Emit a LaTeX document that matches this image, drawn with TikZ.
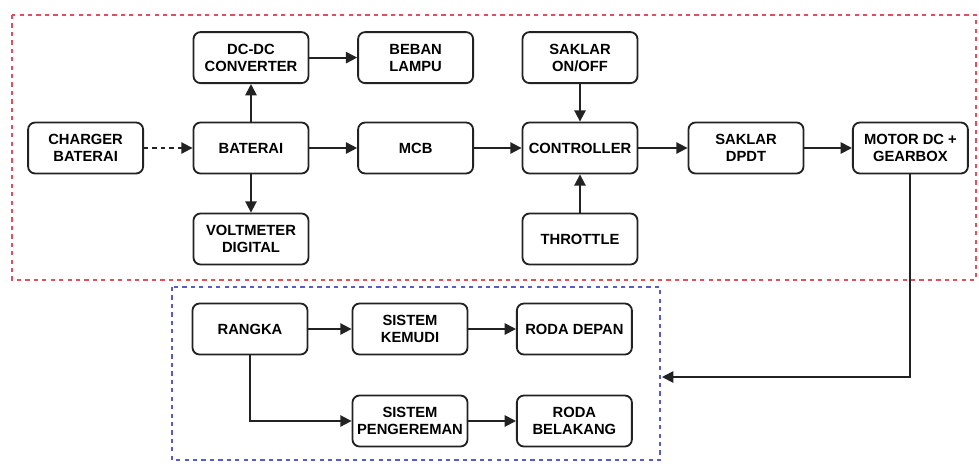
\documentclass[tikz,border=0pt]{standalone}
\usepackage{fontspec}
\setmainfont{Liberation Sans}
\usepackage{tikz}
\usetikzlibrary{arrows.meta, positioning}
\definecolor{BoxLine}{HTML}{222222}
\definecolor{FrameRed}{HTML}{E0505A}
\definecolor{FrameBlue}{HTML}{5A5AD0}

\begin{document}
\begin{tikzpicture}[
        blok/.style={draw=BoxLine, line width=1.3pt, rounded corners=5pt, fill=white,
                    minimum width=2.875cm, minimum height=1.275cm, inner xsep=2pt,
                    align=center, font=\fontsize{10.5}{12}\selectfont\bfseries},
        panah/.style={-{Triangle[length=8pt,width=8pt]}, line width=1.3pt, BoxLine},
        grup/.style={line width=1.2pt, dash pattern=on 3pt off 3pt}]
        \useasboundingbox (0,0) rectangle (24.475,-11.65);

        % Group frames
        \draw[grup, FrameRed]  (0.3,-0.375) rectangle (24.4,-7.0);
        \draw[grup, FrameBlue] (4.3,-7.175) rectangle (16.5,-11.5);
        \coordinate (mekanik) at (16.55,-9.425);

        % Electrical part
        \node[blok] (charger) at (2.14,-3.7)   {CHARGER\\BATERAI};
        \node[blok] (baterai) at (6.275,-3.7)  {BATERAI};
        \node[blok] (dcdc)    at (6.275,-1.44) {DC-DC\\CONVERTER};
        \node[blok] (volt)    at (6.275,-5.975){VOLTMETER\\DIGITAL};
        \node[blok] (lampu)   at (10.39,-1.44) {BEBAN\\LAMPU};
        \node[blok] (mcb)     at (10.39,-3.7)  {MCB};
        \node[blok] (onoff)   at (14.5,-1.44)  {SAKLAR\\ON/OFF};
        \node[blok] (ctrl)    at (14.5,-3.7)   {CONTROLLER};
        \node[blok] (gas)     at (14.5,-5.975) {THROTTLE};
        \node[blok] (dpdt)    at (18.65,-3.7)  {SAKLAR\\DPDT};
        \node[blok] (motor)   at (22.76,-3.7)  {MOTOR DC +\\GEARBOX};

        % Mechanical part
        \node[blok] (rangka)  at (6.25,-8.225)  {RANGKA};
        \node[blok] (kemudi)  at (10.25,-8.225) {SISTEM\\KEMUDI};
        \node[blok] (depan)   at (14.36,-8.225) {RODA DEPAN};
        \node[blok] (rem)     at (10.25,-10.525){SISTEM\\PENGEREMAN};
        \node[blok] (belakang) at (14.36,-10.525){RODA\\BELAKANG};

        % Arrows
        \draw[panah, dashed] (charger.east) -- (baterai.west);
        \draw[panah] (baterai.north) -- (dcdc.south);
        \draw[panah] (baterai.south) -- (volt.north);
        \draw[panah] (dcdc.east) -- (lampu.west);
        \draw[panah] (baterai.east) -- (mcb.west);
        \draw[panah] (mcb.east) -- (ctrl.west);
        \draw[panah] (onoff.south) -- (ctrl.north);
        \draw[panah] (gas.north) -- (ctrl.south);
        \draw[panah] (ctrl.east) -- (dpdt.west);
        \draw[panah] (dpdt.east) -- (motor.west);
        \draw[panah] (motor.south) |- (mekanik);
        \draw[panah] (rangka.east) -- (kemudi.west);
        \draw[panah] (kemudi.east) -- (depan.west);
        \draw[panah] (rangka.south) |- (rem.west);
        \draw[panah] (rem.east) -- (belakang.west);
      \end{tikzpicture}
\end{document}
